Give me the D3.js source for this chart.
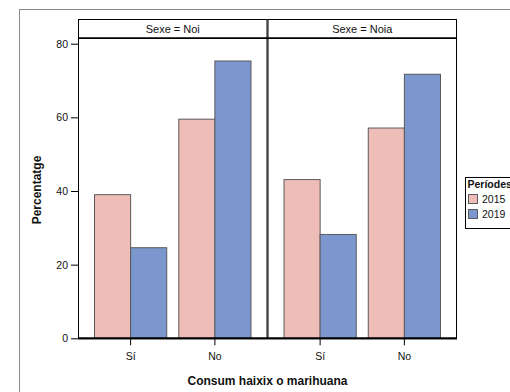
<!DOCTYPE html>
<html><head><meta charset="utf-8">
<script src="https://cdn.jsdelivr.net/npm/d3@7"></script>
<style>body{margin:0;background:#fff;}svg{display:block;font-family:"Liberation Sans",Arial,sans-serif;}</style>
</head><body>
<script>
const panels = ["Sexe = Noi", "Sexe = Noia"];
const categories = ["Sí", "No"];
const periods = ["2015", "2019"];
const values2015 = [[39.0, 59.5], [43.1, 57.1]];
const values2019 = [[24.6, 75.3], [28.2, 71.7]];
const yTicks = [0, 20, 40, 60, 80];
const colors = ["#EFBDB7", "#7C97CD"];

const W = 510, H = 392;
const svg = d3.select("body").append("svg").attr("width", W).attr("height", H);

// outer frame
svg.append("rect").attr("x", 19.5).attr("y", 9.5).attr("width", 520).attr("height", 400)
  .attr("fill", "none").attr("stroke", "#8a8a8a").attr("stroke-width", 1);

const plotTop = 38, plotBottom = 338.3, stripTop = 19;
const y = d3.scaleLinear().domain([0, 80]).range([plotBottom, 43.7]);
const fx = d3.scaleBand().domain(panels).range([78, 457]).paddingInner(0);
const FF = "Liberation Sans, Arial, sans-serif";

panels.forEach((p, pi) => {
  const x0 = fx(p), x1 = x0 + fx.bandwidth();
  const g = svg.append("g");
  const x = d3.scaleBand().domain(categories).range([x0, x1]).paddingInner(12/84).paddingOuter(0.196);
  const xs = d3.scaleBand().domain(periods).range([0, x.bandwidth()]);
  categories.forEach((c, ci) => {
    const vals = [values2015[pi][ci], values2019[pi][ci]];
    periods.forEach((per, k) => {
      g.append("rect")
        .attr("x", x(c) + xs(per)).attr("y", y(vals[k]))
        .attr("width", xs.bandwidth()).attr("height", y(0) - y(vals[k]))
        .attr("fill", colors[k]).attr("stroke", "#5a5a5a").attr("stroke-width", 1);
    });
  });
  g.append("rect").attr("x", x0 + 0.5).attr("y", plotTop + 0.5)
    .attr("width", fx.bandwidth() - 1).attr("height", plotBottom - plotTop)
    .attr("fill", "none").attr("stroke", "#000").attr("stroke-width", 1);
  g.append("rect").attr("x", x0 + 0.5).attr("y", stripTop + 0.5)
    .attr("width", fx.bandwidth() - 1).attr("height", plotTop - stripTop)
    .attr("fill", "#fff").attr("stroke", "#000").attr("stroke-width", 1);
  g.append("line").attr("x1", x0).attr("x2", x1).attr("y1", plotTop).attr("y2", plotTop)
    .attr("stroke", "#000").attr("stroke-width", 1.5);
  g.append("text").attr("x", (x0 + x1) / 2).attr("y", 32.5).attr("text-anchor", "middle")
    .attr("font-size", 11).attr("fill", "#111").text(p);
  const ax = svg.append("g").attr("transform", `translate(0,${plotBottom})`)
    .call(d3.axisBottom(x).tickSize(7).tickPadding(7));
  ax.select(".domain").remove();
  ax.selectAll("line").attr("stroke", "#000");
  ax.selectAll("text").attr("font-size", 10.5).attr("fill", "#111").attr("font-family", FF);
});

svg.append("line").attr("x1", 78).attr("x2", 457).attr("y1", plotBottom).attr("y2", plotBottom)
  .attr("stroke", "#000").attr("stroke-width", 2);

const ay = svg.append("g").attr("transform", "translate(78,0)")
  .call(d3.axisLeft(y).tickValues(yTicks).tickSize(7).tickPadding(3));
ay.select(".domain").remove();
ay.selectAll("line").attr("stroke", "#000");
ay.selectAll("text").attr("font-size", 10.5).attr("fill", "#111").attr("font-family", FF);
svg.append("line").attr("x1", 78.5).attr("x2", 78.5).attr("y1", plotTop).attr("y2", plotBottom).attr("stroke", "#000");

svg.append("text").attr("transform", "translate(41,190) rotate(-90)").attr("text-anchor", "middle")
  .attr("font-size", 12).attr("font-weight", "bold").attr("fill", "#111").text("Percentatge");
svg.append("text").attr("x", 267.5).attr("y", 385).attr("text-anchor", "middle")
  .attr("font-size", 12).attr("font-weight", "bold").attr("fill", "#111").text("Consum haixix o marihuana");

const lg = svg.append("g");
lg.append("rect").attr("x", 465.5).attr("y", 177.5).attr("width", 60).attr("height", 51)
  .attr("fill", "#fff").attr("stroke", "#000");
lg.append("text").attr("x", 467.5).attr("y", 188).attr("font-size", 10.5).attr("font-weight", "bold")
  .attr("fill", "#111").text("Períodes");
periods.forEach((per, k) => {
  const yy = 194 + k * 15;
  lg.append("rect").attr("x", 468.5).attr("y", yy + 0.5).attr("width", 9).attr("height", 9)
    .attr("fill", colors[k]).attr("stroke", "#5a5a5a");
  lg.append("text").attr("x", 482).attr("y", yy + 9).attr("font-size", 10.5).attr("fill", "#111").text(per);
});
</script>
</body></html>
